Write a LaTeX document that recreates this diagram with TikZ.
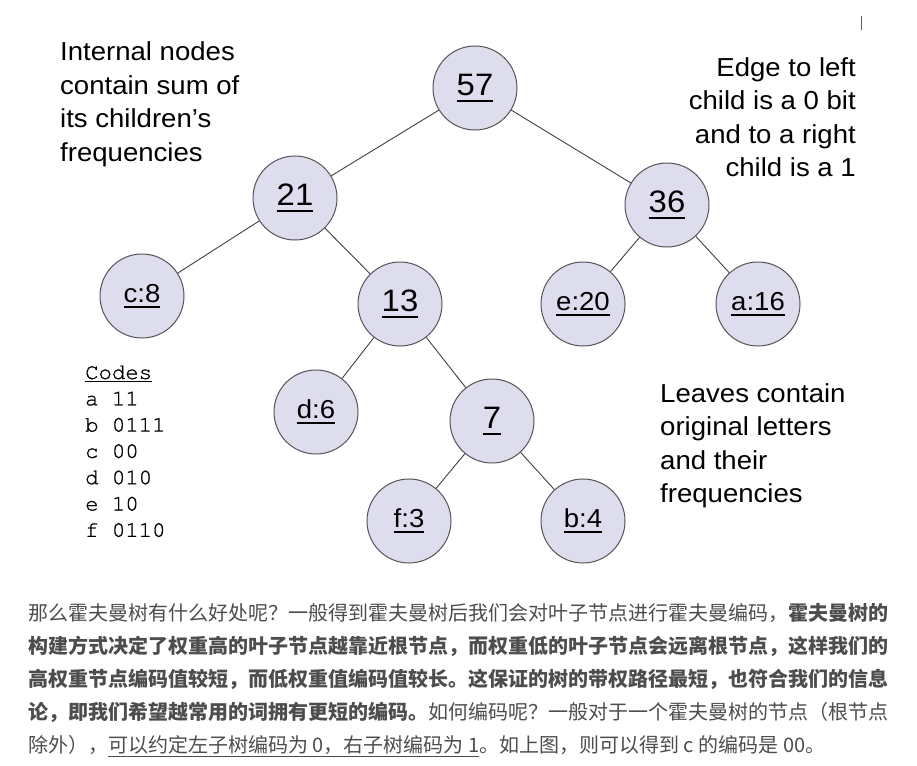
\documentclass[tikz,border=0pt]{standalone}
\usepackage{fontspec}
\setmainfont{Liberation Sans}[FakeStretch=1.06]
\newfontfamily\cjk{Noto Sans CJK SC}
\newfontfamily\cur{texgyrecursor-regular.otf}[FakeBold=0.9]
\definecolor{nodefill}{RGB}{221,221,238}
\definecolor{nodeedge}{RGB}{85,85,90}
\definecolor{edgecol}{RGB}{65,65,65}
\definecolor{cngray}{RGB}{77,77,77}
\definecolor{barcol}{RGB}{90,90,90}
\newcommand\nul[1]{\vtop{\hbox{#1}\kern0.13em\hrule height 0.075em}}
\tikzset{
  treenode/.style={circle, draw=nodeedge, fill=nodefill, line width=1pt, minimum size=84pt, inner sep=0pt},
  internal/.style={treenode, font=\fontsize{31}{36}\selectfont},
  leaf/.style={treenode, font=\fontsize{26}{30}\selectfont},
  edge/.style={draw=edgecol, line width=0.9pt},
  lbl/.style={font=\fontsize{26}{33}\selectfont, inner sep=0pt},
  codeline/.style={font=\cur\fontsize{22.3}{26}\selectfont, inner sep=0pt, anchor=base west},
  cnline/.style={font=\cjk\fontsize{20}{24}\selectfont, text=cngray, inner sep=0pt, anchor=base west}
}
\begin{document}
\begin{tikzpicture}[x=1pt,y=-1pt]
\useasboundingbox (0,0) rectangle (917,765);
\fill[white] (0,0) rectangle (917,765);

% tree nodes
\node[internal] (n57) at (475,88) {\nul{57}};
\node[internal] (n21) at (295,198) {\nul{21}};
\node[internal] (n36) at (667,205) {\nul{36}};
\node[leaf] (c8) at (142,296) {\nul{c:8}};
\node[internal] (n13) at (400,304) {\nul{13}};
\node[leaf] (e20) at (583,304) {\nul{e:20}};
\node[leaf] (a16) at (758,304) {\nul{a:16}};
\node[leaf] (d6) at (316,412) {\nul{d:6}};
\node[internal] (n7) at (492,421) {\nul{7}};
\node[leaf] (f3) at (409,521) {\nul{f:3}};
\node[leaf] (b4) at (583,521) {\nul{b:4}};

% edges
\draw[edge] (n57) -- (n21);
\draw[edge] (n57) -- (n36);
\draw[edge] (n21) -- (c8);
\draw[edge] (n21) -- (n13);
\draw[edge] (n36) -- (e20);
\draw[edge] (n36) -- (a16);
\draw[edge] (n13) -- (d6);
\draw[edge] (n13) -- (n7);
\draw[edge] (n7) -- (f3);
\draw[edge] (n7) -- (b4);

% left label
\node[lbl, anchor=base west] (l1) at (60,61) {Internal nodes};
\node[lbl, anchor=base west] (l2) at (60,94.5) {contain sum of};
\node[lbl, anchor=base west] (l3) at (60,128) {its children’s};
\node[lbl, anchor=base west] (l4) at (60,161.5) {frequencies};

% right label
\node[lbl, anchor=base east] (r1) at (856,77) {Edge to left};
\node[lbl, anchor=base east] (r2) at (856,110) {child is a 0 bit};
\node[lbl, anchor=base east] (r3) at (856,143) {and to a right};
\node[lbl, anchor=base east] (r4) at (856,176) {child is a 1};

% leaves label
\node[lbl, anchor=base west] (v1) at (660,402) {Leaves contain};
\node[lbl, anchor=base west] (v2) at (660,435.5) {original letters};
\node[lbl, anchor=base west] (v3) at (660,469) {and their};
\node[lbl, anchor=base west] (v4) at (660,502.5) {frequencies};

% codes
\node[codeline] (k0) at (85,379) {\underline{Codes}};
\node[codeline] (k1) at (85,405.3) {a 11};
\node[codeline] (k2) at (85,431.6) {b 0111};
\node[codeline] (k3) at (85,457.9) {c 00};
\node[codeline] (k4) at (85,484.2) {d 010};
\node[codeline] (k5) at (85,510.5) {e 10};
\node[codeline] (k6) at (85,536.8) {f 0110};

% cursor bar
\coordinate (barT) at (861.5,16);
\coordinate (barB) at (861.5,30);
\draw[barcol, line width=1.5pt] (barT) -- (barB);

% chinese paragraph
\node[cnline] (p1) at (28,620.6) {那么霍夫曼树有什么好处呢？一般得到霍夫曼树后我们会对叶子节点进行霍夫曼编码，{\bfseries 霍夫曼树的}};
\node[cnline] (p2) at (28,653.6) {{\bfseries 构建方式决定了权重高的叶子节点越靠近根节点，而权重低的叶子节点会远离根节点，这样我们的}};
\node[cnline] (p3) at (28,686.6) {{\bfseries 高权重节点编码值较短，而低权重值编码值较长。这保证的树的带权路径最短，也符合我们的信息}};
\node[cnline] (p4) at (28,719.6) {{\bfseries 论，即我们希望越常用的词拥有更短的编码。}如何编码呢？一般对于一个霍夫曼树的节点（根节点};
\node[cnline] (p5) at (28,752.6) {除外），\underline{可以约定左子树编码为 0，右子树编码为 1}。如上图，则可以得到 c 的编码是 00。};
\end{tikzpicture}
\end{document}
